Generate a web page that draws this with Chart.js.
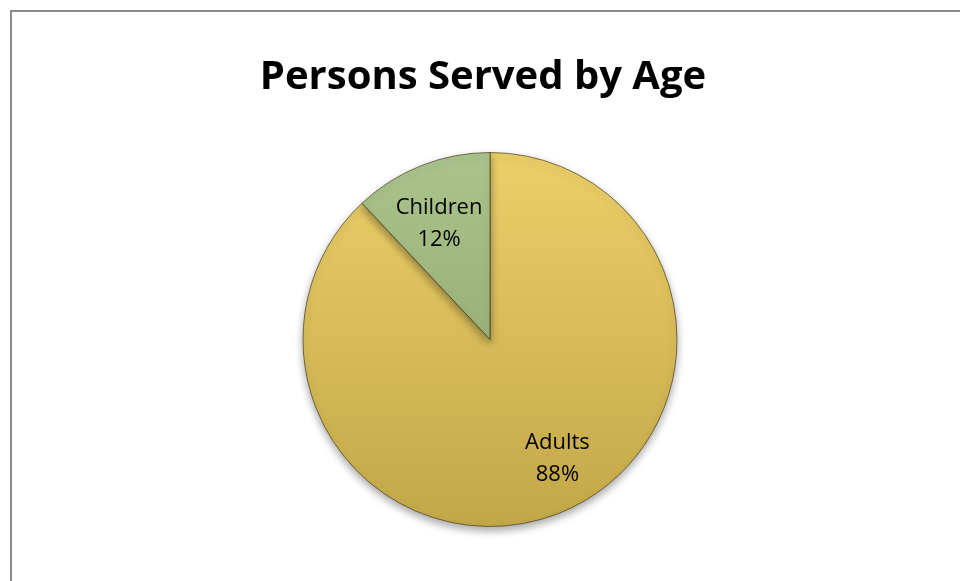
<!DOCTYPE html>
<html>
<head>
<meta charset="utf-8">
<script src="https://cdn.jsdelivr.net/npm/chart.js@4.4.0/dist/chart.umd.min.js"></script>
<style>
  html, body { margin: 0; padding: 0; background: #fff; }
  #wrap { position: relative; width: 960px; height: 581px; overflow: hidden; }
  #frame {
    position: absolute; left: 10px; top: 10px; width: 1000px; height: 700px;
    border-left: 2px solid #8c8c8c; border-top: 2px solid #8c8c8c;
  }
  canvas { position: absolute; left: 0; top: 0; }
</style>
</head>
<body>
<div id="wrap">
  <div id="frame"></div>
  <canvas id="pieChart" width="960" height="581"></canvas>
</div>
<script>
const chartTitle = 'Persons Served by Age';
const categories = ['Adults', 'Children'];
const shares = [88, 12];
const percentLabels = ['88%', '12%'];

// top / bottom shades of each slice
const topColors = ['#ebcf68', '#abc48c'];
const bottomColors = ['#c2a748', '#879e66'];
// label placement: angle shift from slice middle (deg) and fraction of radius
const labelShift = [-8, -2];
const labelDist = [0.73, 0.68];

function sliceFill(c) {
  const chart = c.chart;
  const area = chart.chartArea;
  const i = c.dataIndex;
  if (!area) return topColors[i];
  const g = chart.ctx.createLinearGradient(0, area.top, 0, area.bottom);
  g.addColorStop(0, topColors[i]);
  g.addColorStop(1, bottomColors[i]);
  return g;
}

const shadowPlugin = {
  id: 'shadow',
  beforeDatasetsDraw(chart) {
    const ctx = chart.ctx;
    ctx.save();
    ctx.shadowColor = 'rgba(0,0,0,0.35)';
    ctx.shadowBlur = 8;
    ctx.shadowOffsetY = 4;
  },
  afterDatasetsDraw(chart) {
    chart.ctx.restore();
  }
};

// title is centred on the whole frame, not on the pie
const titlePlugin = {
  id: 'frameTitle',
  afterDraw(chart) {
    const ctx = chart.ctx;
    ctx.save();
    ctx.fillStyle = '#000';
    ctx.font = 'bold 40px "Open Sans", sans-serif';
    ctx.textAlign = 'center';
    ctx.textBaseline = 'middle';
    ctx.fillText(chartTitle, chart.width / 2 + 3, 78);
    ctx.restore();
  }
};

const labelPlugin = {
  id: 'sliceLabels',
  afterDraw(chart) {
    const ctx = chart.ctx;
    const meta = chart.getDatasetMeta(0);
    ctx.save();
    ctx.fillStyle = '#000';
    ctx.font = '22px "Open Sans", sans-serif';
    ctx.textAlign = 'center';
    ctx.textBaseline = 'middle';
    meta.data.forEach((arc, i) => {
      const p = arc.getProps(['x', 'y', 'startAngle', 'endAngle', 'outerRadius'], true);
      const mid = (p.startAngle + p.endAngle) / 2 + labelShift[i] * Math.PI / 180;
      const d = p.outerRadius * labelDist[i];
      const x = p.x + Math.cos(mid) * d;
      const y = p.y + Math.sin(mid) * d;
      ctx.fillText(categories[i], x, y - 15);
      ctx.fillText(percentLabels[i], x, y + 17);
    });
    ctx.restore();
  }
};

const ctx = document.getElementById('pieChart').getContext('2d');
const chart = new Chart(ctx, {
  type: 'pie',
  data: {
    labels: categories,
    datasets: [{
      data: shares,
      backgroundColor: sliceFill,
      borderColor: 'rgba(70,60,30,0.7)',
      borderWidth: 1,
      hoverOffset: 0
    }]
  },
  options: {
    responsive: false,
    animation: false,
    layout: {
      padding: { top: 152, bottom: 54, left: 200, right: 180 }
    },
    plugins: {
      legend: { display: false },
      tooltip: { enabled: false },
      title: { display: false }
    }
  },
  plugins: [shadowPlugin, titlePlugin, labelPlugin]
});
</script>
</body>
</html>
